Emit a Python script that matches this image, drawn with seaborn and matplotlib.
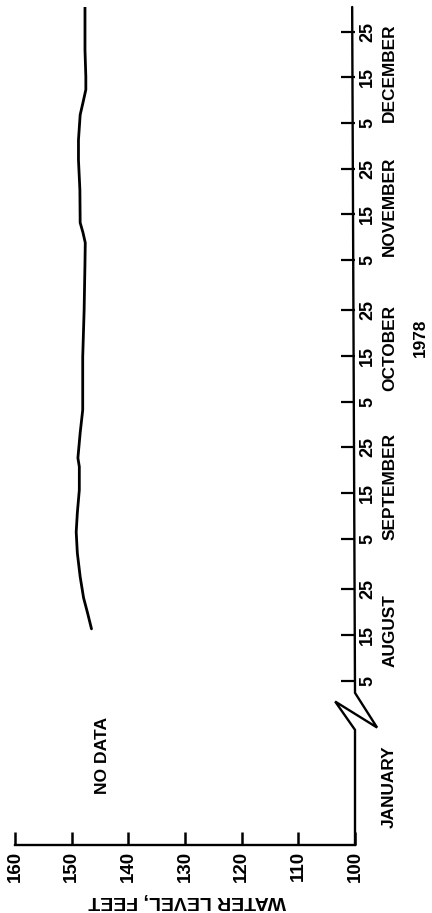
import matplotlib
matplotlib.use("Agg")
import matplotlib.pyplot as plt
import pandas as pd
import seaborn as sns

# days counted from 5 August 1978
curve_days = [11.3, 14.8, 18.1, 22.7, 27.9, 32.5, 36.7, 41.7, 46.8, 48.7, 54.2, 59.2, 64.3,
              70.8, 81.1, 91.4, 95.8, 98, 100.2, 107.4, 113.9, 118.3, 123.8, 126.5, 129.3, 132.1, 138, 147.9]
curve_levels = [146.5, 147.2, 147.9, 148.5, 149.0, 149.2, 149.0, 148.65, 148.65, 148.9, 148.5, 148.05, 148.05,
                148.05, 147.8, 147.65, 147.6, 148.0, 148.5, 148.55, 148.8, 148.8, 148.5, 148.0, 147.5, 147.5, 147.65, 147.65]
tick_days = [0, 10, 20, 31, 41, 51, 61, 71, 81, 92, 102, 112, 122, 132, 142]
tick_labels = ["5", "15", "25"] * 5
level_ticks = [160, 150, 140, 130, 120, 110, 100]
months = ["JANUARY", "AUGUST", "SEPTEMBER", "OCTOBER", "NOVEMBER", "DECEMBER"]
month_days = [-23.3, 11, 42.4, 72.8, 103.7, 133]
axis_levels = [100, 100, 103.5, 96.1, 100, 100.5]
axis_days = [-36, -10.8, -4.6, -10.3, -2.7, 147.4]

sns.set_style("white")
plt.rcParams["font.family"] = ["Liberation Sans", "DejaVu Sans"]
plt.rcParams["font.weight"] = "bold"

W, H = 432, 913
fig = plt.figure(figsize=(W / 100, H / 100), dpi=100, facecolor="white")
ax = fig.add_axes([15 / W, 1 - 845 / H, 340 / W, 838 / H], facecolor="none")

df = pd.DataFrame({"day": curve_days, "level": curve_levels})
sns.lineplot(data=df, x="level", y="day", orient="y", sort=False, estimator=None,
             color="black", lw=2.0, ax=ax)
ax.plot(axis_levels, axis_days, color="black", lw=1.7, clip_on=False, solid_joinstyle="miter")

ax.set_xlim(160, 100)
ax.set_ylim(-36, 147.4)
ax.set_xlabel("")
ax.set_ylabel("")
for side in ("top", "left", "right"):
    ax.spines[side].set_visible(False)
ax.spines["bottom"].set_linewidth(1.7)
ax.spines["bottom"].set_color("black")

ax.set_xticks(level_ticks)
ax.set_xticklabels([str(v) for v in level_ticks], rotation=90, fontsize=13.5, fontweight="bold")
ax.tick_params(axis="x", direction="in", length=9.5, width=1.8, color="black", pad=4,
               bottom=True, labelcolor="black")
ax.yaxis.tick_right()
ax.set_yticks(tick_days)
ax.set_yticklabels(tick_labels, rotation=90, va="center", fontsize=13, fontweight="bold")
ax.tick_params(axis="y", direction="in", length=10, width=1.6, color="black", pad=3,
               right=True, labelcolor="black")

for name, d in zip(months, month_days):
    ax.text(93.9, d, name, rotation=90, ha="center", va="center", fontsize=12.4,
            fontweight="bold", color="black", clip_on=False)
ax.text(88.5, 75, "1978", rotation=90, ha="center", va="center", fontsize=12.4,
        fontweight="bold", color="black", clip_on=False)
ax.text(144.6, -16.3, "NO DATA", rotation=90, ha="center", va="center", fontsize=12.6,
        fontweight="bold", color="black")
ax.text(129.6, -48.2, "WATER LEVEL, FEET", rotation=180, ha="center", va="center", fontsize=14,
        fontweight="bold", color="black", clip_on=False)

fig.savefig("out.png", dpi=100)
